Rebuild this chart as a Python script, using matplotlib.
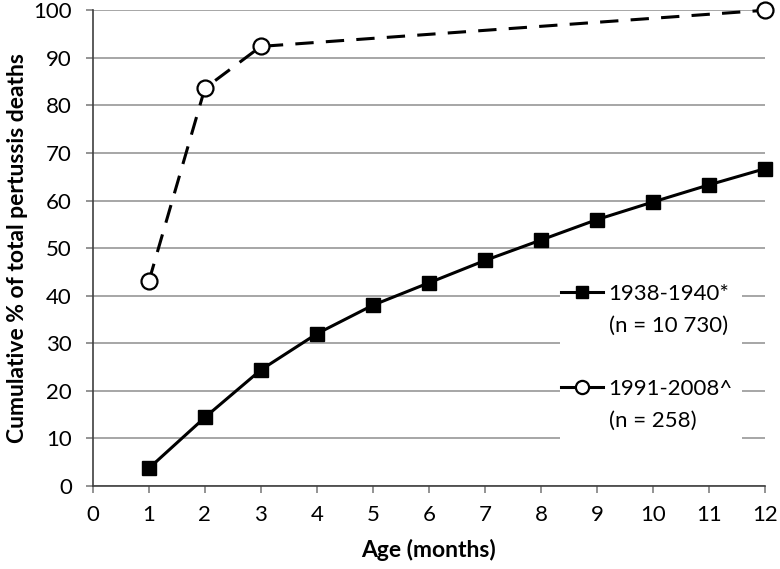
import matplotlib.pyplot as plt
from matplotlib.lines import Line2D
from matplotlib.patches import Rectangle

plt.rcParams['font.family'] = ['Lato', 'DejaVu Sans']

# data
age = [1, 2, 3, 4, 5, 6, 7, 8, 9, 10, 11, 12]
deaths_1938 = [3.7, 14.4, 24.4, 32.0, 38.0, 42.7, 47.4, 51.7, 56.0, 59.7, 63.3, 66.7]
age_1991 = [1, 2, 3, 12]
deaths_1991 = [43.0, 83.6, 92.4, 100.0]
names = ['1938-1940*', '1991-2008^']
counts = ['(n = 10 730)', '(n = 258)']

fig = plt.figure(figsize=(7.8, 5.69), dpi=100)
ax = fig.add_axes([0.119, 0.146, 0.862, 0.836])

ax.plot(age, deaths_1938, color='black', lw=2.2, marker='s', ms=9.5,
        clip_on=False, zorder=3)
ax.plot(age_1991, deaths_1991, color='black', lw=2.2, ls=(0, (6, 4)),
        marker='o', ms=11.5, mfc='white', mec='black', mew=1.6,
        clip_on=False, zorder=3)

ax.set_xlim(0, 12)
ax.set_ylim(0, 100)
ax.set_xticks(range(0, 13))
ax.set_yticks(range(0, 101, 10))
ax.yaxis.grid(True, color='#a6a6a6', lw=1.4)
ax.set_axisbelow(True)
for s in ['top', 'right']:
    ax.spines[s].set_visible(False)
for s in ['left', 'bottom']:
    ax.spines[s].set_color('#404040')
    ax.spines[s].set_linewidth(1.2)
ax.tick_params(axis='both', labelsize=16, color='#808080', length=5, width=1.2)
ax.tick_params(axis='y', pad=10)
ax.tick_params(axis='x', pad=9)

ax.set_xlabel('Age (months)', fontsize=16.5, fontweight='bold', labelpad=10)
ax.set_ylabel('Cumulative % of total pertussis deaths', fontsize=16.5,
              fontweight='bold', labelpad=4)

# white box behind the legend (hides the gridlines there)
ax.add_patch(Rectangle((0.695, 0.086), 0.27, 0.378, transform=ax.transAxes,
                       facecolor='white', edgecolor='none', zorder=1.5))

handles = [
    Line2D([], [], color='black', lw=2.2, marker='s', ms=8),
    Line2D([], [], color='black', lw=2.2, marker='o', ms=9.5, mfc='white', mew=1.6),
]
leg = ax.legend(handles, names, loc='center left', bbox_to_anchor=(0.696, 0.304),
                frameon=False, fontsize=16, handlelength=1.9, handletextpad=0.25,
                labelspacing=3.4, borderpad=0, borderaxespad=0)
# second line of each legend entry, drawn after the legend
for t, c in zip(leg.get_texts(), counts):
    ax.annotate(c, xy=(0, 0.5), xycoords=t, xytext=(0, -23),
                textcoords='offset points', va='center', ha='left',
                fontsize=16, zorder=6)

fig.savefig('out.png', dpi=100)
